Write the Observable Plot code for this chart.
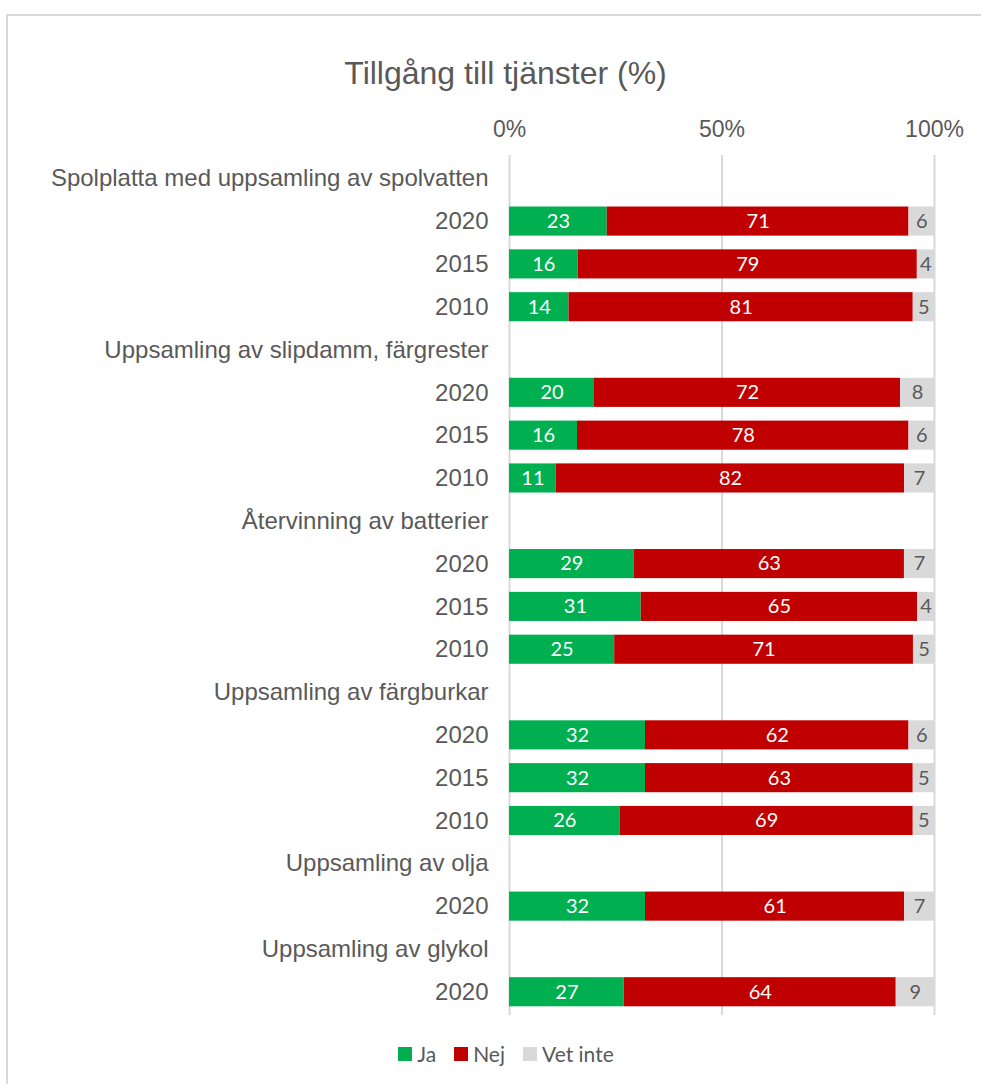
<!DOCTYPE html>
<html>
<head>
<meta charset="utf-8">
<script src="https://cdn.jsdelivr.net/npm/d3@7"></script>
<script src="https://cdn.jsdelivr.net/npm/@observablehq/plot@0.6"></script>
<style>
  html, body { margin: 0; padding: 0; background: #fff; }
  body { width: 981px; height: 1084px; position: relative; overflow: hidden; }
  #frame { position: absolute; left: 6px; top: 14px; width: 1000px; height: 1100px; border: 2px solid #d9d9d9; box-sizing: border-box; }
  #title { position: absolute; left: 0; width: 1011px; top: 57px; line-height: 32px; text-align: center; font-family: "Liberation Sans", Arial, sans-serif; font-size: 32px; color: #595959; }
  #chart { position: absolute; left: 0; top: 0; }
  #legend { position: absolute; left: 0; width: 1012px; top: 1040px; line-height: 26px; text-align: center; font-family: Lato, "Open Sans", sans-serif; font-size: 21px; color: #595959; }
  #legend span.item { display: inline-flex; align-items: center; margin: 0 9px; }
  #legend span.sw { display: inline-block; width: 14px; height: 14px; margin-right: 5px; }
</style>
</head>
<body>
<div id="frame"></div>
<div id="title">Tillgång till tjänster (%)</div>
<div id="chart"></div>
<div id="legend"></div>
<script>
const groups = [
  "Spolplatta med uppsamling av spolvatten",
  "Uppsamling av slipdamm, färgrester",
  "Återvinning av batterier",
  "Uppsamling av färgburkar",
  "Uppsamling av olja",
  "Uppsamling av glykol"
];
const yearsPerGroup = [
  [2020, 2015, 2010],
  [2020, 2015, 2010],
  [2020, 2015, 2010],
  [2020, 2015, 2010],
  [2020],
  [2020]
];
const ja      = [23, 16, 14, 20, 16, 11, 29, 31, 25, 32, 32, 26, 32, 27];
const nej     = [71, 79, 81, 72, 78, 82, 63, 65, 71, 62, 63, 69, 61, 64];
const vetInte = [ 6,  4,  5,  8,  6,  7,  7,  4,  5,  6,  5,  5,  7,  9];
const responses = ["Ja", "Nej", "Vet inte"];
const colors = ["#00b050", "#c00000", "#d9d9d9"];
const xTicks = [0, 0.5, 1];

// Build rows (group header rows + year rows) and long data
const rowKeys = [];
const rowLabels = new Map();
const data = [];
let k = 0;
groups.forEach((g, gi) => {
  const hk = "g" + gi;
  rowKeys.push(hk);
  rowLabels.set(hk, g);
  yearsPerGroup[gi].forEach(yr => {
    const rk = "g" + gi + "-" + yr;
    rowKeys.push(rk);
    rowLabels.set(rk, String(yr));
    const vals = [ja[k], nej[k], vetInte[k]];
    responses.forEach((r, ri) => data.push({row: rk, resp: r, value: vals[ri]}));
    k++;
  });
});

const chart = Plot.plot({
  width: 981,
  height: 1030,
  marginLeft: 509,
  marginRight: 47,
  marginTop: 150,
  marginBottom: 10,
  style: {fontFamily: "'Liberation Sans', Arial, sans-serif", fontSize: "20px", color: "#595959", background: "transparent"},
  x: {domain: [0, 1], ticks: xTicks, axis: null},
  y: {domain: rowKeys, padding: 0.32, round: false, axis: null},
  color: {domain: responses, range: colors},
  marks: [
    Plot.ruleX(xTicks, {stroke: "#d9d9d9", strokeWidth: 2, insetTop: 5, insetBottom: 5}),
    Plot.axisX(xTicks, {anchor: "top", label: null, tickSize: 0, tickPadding: 14, tickFormat: d => Math.round(d * 100) + "%", fontSize: 23, fill: "#595959"}),
    Plot.axisY(rowKeys, {anchor: "left", label: null, tickSize: 0, tickPadding: 21, tickFormat: d => rowLabels.get(d), fontSize: 24, fill: "#595959"}),
    Plot.barX(data, {x: "value", y: "row", fill: "resp", z: "resp", offset: "normalize"}),
    Plot.text(data, Plot.stackX({
      x: "value", y: "row", z: "resp", offset: "normalize",
      text: d => String(d.value),
      fill: d => d.resp === "Vet inte" ? "#595959" : "#ffffff",
      fontFamily: "Lato, 'Open Sans', sans-serif",
      fontSize: 20
    }))
  ]
});
document.getElementById("chart").appendChild(chart);

const legend = document.getElementById("legend");
responses.forEach((r, i) => {
  const item = document.createElement("span");
  item.className = "item";
  const sw = document.createElement("span");
  sw.className = "sw";
  sw.style.background = colors[i];
  item.appendChild(sw);
  item.appendChild(document.createTextNode(r));
  legend.appendChild(item);
});
</script>
</body>
</html>
